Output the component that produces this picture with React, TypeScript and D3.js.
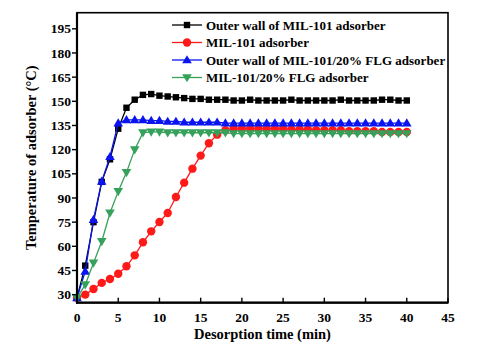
import React from "react";
import * as d3 from "d3";

const times = d3.range(0, 41);
const outerMil101 = [28, 48, 75, 100, 114, 133, 146, 151, 154, 154.5, 153.5, 153, 152.5, 152, 151.5, 151.5, 151, 151, 151, 150.5, 150.5, 151, 150.5, 150.5, 150.5, 150.5, 151, 150.5, 150.5, 150.5, 150.5, 150.5, 151, 150.5, 150.5, 150.5, 150.5, 151, 151, 150.5, 150.5];
const mil101 = [28, 30, 33.5, 37.3, 39.7, 43, 47.6, 54.4, 62.5, 69.3, 75.1, 80.7, 90.6, 99.5, 108.2, 116.3, 124, 129.3, 132, 133, 133, 133, 133, 133, 133, 133, 132.5, 132.5, 132.5, 132, 132, 132, 132, 131.5, 131.5, 131.5, 131.5, 131, 131, 131, 131];
const outerFlg = [28, 44.5, 76.6, 100.3, 115.6, 136.5, 138.5, 138.5, 138.5, 138, 138, 137.5, 137.5, 137, 137, 137, 137, 137, 136.5, 136.5, 136.5, 136.5, 136.5, 136.5, 136.5, 136.5, 136.5, 136.5, 136.5, 136.5, 136.5, 136.5, 136.5, 136.5, 136.5, 136.5, 136.5, 136.5, 136.5, 136.5, 136.5];
const flg = [28, 36.2, 49.7, 63, 80.7, 94.1, 105.9, 120, 130.5, 131, 131, 130.5, 130.5, 130.5, 130.5, 130.5, 130.5, 130.5, 130.5, 130, 130, 130, 130, 130, 130, 130, 130, 130, 130, 130, 130, 130, 130, 130, 130, 130, 130, 130, 130, 130, 130];

const xTicks = [0, 5, 10, 15, 20, 25, 30, 35, 40, 45];
const yTicks = [30, 45, 60, 75, 90, 105, 120, 135, 150, 165, 180, 195];

const seriesNames = [
  "Outer wall of MIL-101 adsorber",
  "MIL-101 adsorber",
  "Outer wall of MIL-101/20% FLG adsorber",
  "MIL-101/20% FLG adsorber",
];
const seriesValues = [outerMil101, mil101, outerFlg, flg];
const seriesColors = ["#000000", "#ff1a1a", "#0a14f0", "#36a15a"];
const seriesShapes = ["square", "circle", "triangle", "triangleDown"];

const W = 483, H = 353;
const L = 77, R = 448, T = 12.7, B = 302.7;
const FONT = "'Liberation Serif', 'Times New Roman', serif";

function Marker({ shape, x, y, color }: { shape: string; x: number; y: number; color: string }) {
  if (shape === "square") return <rect x={x - 3.2} y={y - 3.2} width={6.4} height={6.4} fill={color} />;
  if (shape === "circle") return <circle cx={x} cy={y} r={4.2} fill={color} />;
  const s = 4.8;
  if (shape === "triangle")
    return <path d={`M${x},${y - s}L${x + s},${y + s * 0.7}L${x - s},${y + s * 0.7}Z`} fill={color} />;
  return <path d={`M${x},${y + s}L${x + s},${y - s * 0.7}L${x - s},${y - s * 0.7}Z`} fill={color} />;
}

export default function App() {
  const x = d3.scaleLinear().domain([0, 45]).range([L, R]);
  const y = d3.scaleLinear().domain([25, 205]).range([B, T]);
  const line = d3.line<number>().x((_, i) => x(times[i])).y((d) => y(d));

  return (
    <svg width={W} height={H} style={{ position: "absolute", left: 0, top: 0, background: "#fff" }} fontFamily={FONT}>
      <rect x={0} y={0} width={W} height={H} fill="#fff" />
      {seriesValues.map((vals, si) => (
        <g key={si}>
          <path d={line(vals) || ""} fill="none" stroke={seriesColors[si]} strokeWidth={1.3} />
          {vals.map((v, i) => (
            <Marker key={i} shape={seriesShapes[si]} x={x(times[i])} y={y(v)} color={seriesColors[si]} />
          ))}
        </g>
      ))}
      {/* frame */}
      <rect x={L} y={T} width={R - L} height={B - T} fill="none" stroke="#000" strokeWidth={1.6} />
      <line x1={L} x2={L} y1={T} y2={B + 1} stroke="#000" strokeWidth={2.2} />
      <line x1={L - 1} x2={R} y1={B} y2={B} stroke="#000" strokeWidth={2.2} />
      {/* x ticks */}
      {xTicks.map((t) => (
        <g key={t}>
          <line x1={x(t)} x2={x(t)} y1={B} y2={B - 5} stroke="#000" strokeWidth={1.4} />
          <text x={x(t)} y={322} textAnchor="middle" fontSize={13.5} fontWeight="bold">{t}</text>
        </g>
      ))}
      {/* y ticks */}
      {yTicks.map((t) => (
        <g key={t}>
          <line x1={L} x2={L - 5} y1={y(t)} y2={y(t)} stroke="#000" strokeWidth={1.4} />
          <text x={71} y={y(t) + 4.6} textAnchor="end" fontSize={13.5} fontWeight="bold">{t}</text>
        </g>
      ))}
      <text x={(L + R) / 2} y={339} textAnchor="middle" fontSize={14.5} fontWeight="bold">Desorption time (min)</text>
      <text transform={`translate(36,${(T + B) / 2}) rotate(-90)`} textAnchor="middle" fontSize={14.5} fontWeight="bold">
        Temperature of adsorber (°C)
      </text>
      {/* legend */}
      {seriesNames.map((name, i) => {
        const ly = 25 + i * 17.5;
        return (
          <g key={name}>
            <line x1={172} x2={202} y1={ly} y2={ly} stroke={seriesColors[i]} strokeWidth={1.3} />
            <Marker shape={seriesShapes[i]} x={187} y={ly} color={seriesColors[i]} />
            <text x={206} y={ly + 4.5} fontSize={13} fontWeight="bold">{name}</text>
          </g>
        );
      })}
    </svg>
  );
}
